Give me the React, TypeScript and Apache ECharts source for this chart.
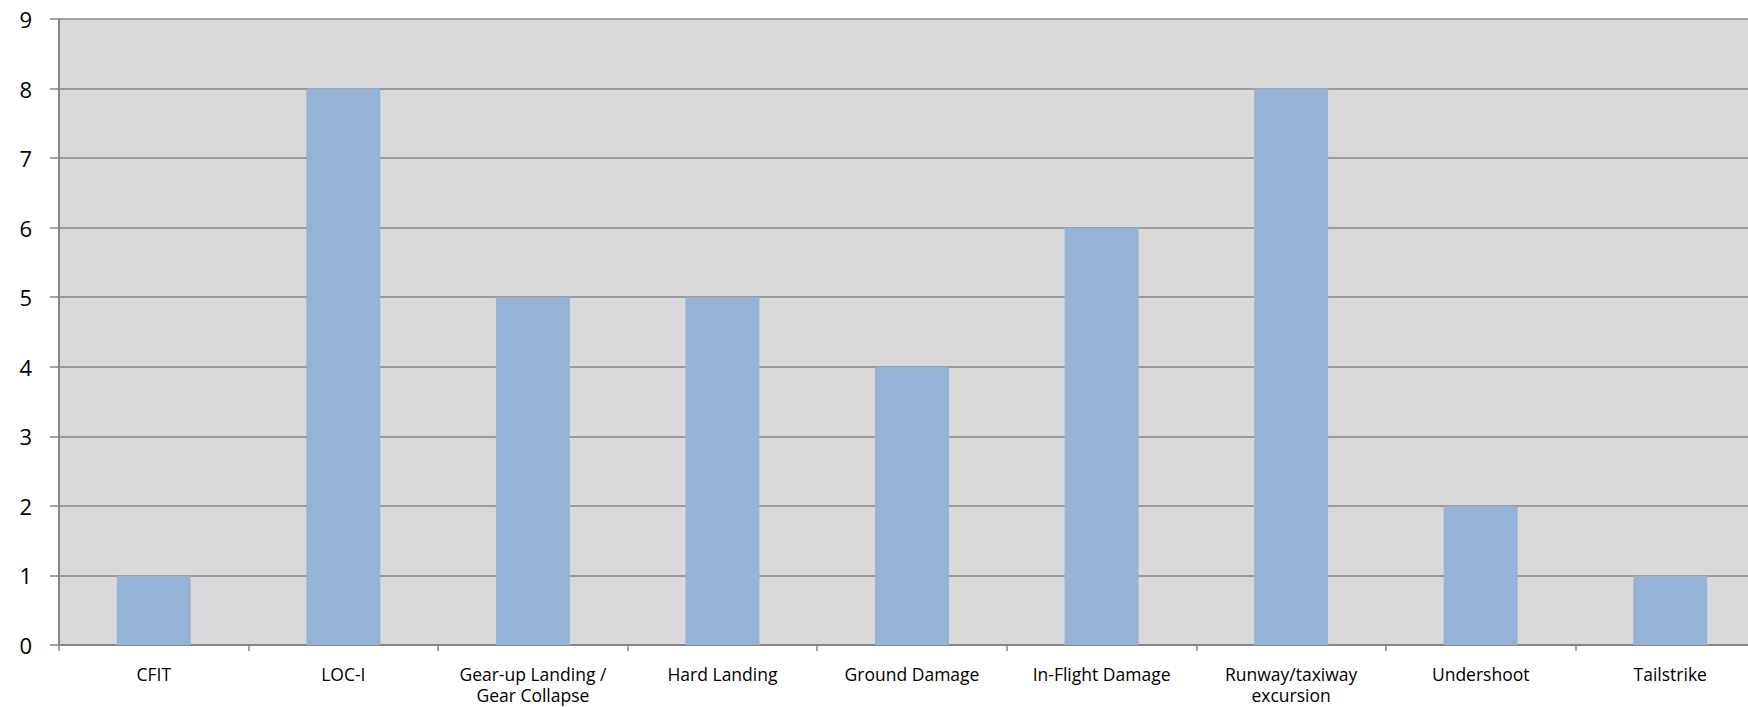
import React, { useEffect, useRef } from "react";
import * as echarts from "echarts";

const categories = [
  "CFIT",
  "LOC-I",
  "Gear-up Landing /\nGear Collapse",
  "Hard Landing",
  "Ground Damage",
  "In-Flight Damage",
  "Runway/taxiway\nexcursion",
  "Undershoot",
  "Tailstrike",
];
const values = [1, 8, 5, 5, 4, 6, 8, 2, 1];
const yTicks = { min: 0, max: 9, interval: 1 };

export default function App() {
  const ref = useRef<HTMLDivElement>(null);
  useEffect(() => {
    if (!ref.current) return;
    const chart = echarts.init(ref.current, undefined, { renderer: "svg" });
    chart.setOption({
      animation: false,
      grid: {
        left: 59,
        top: 19,
        width: 1706,
        height: 626,
        show: true,
        backgroundColor: "#d9d9d9",
        borderWidth: 0,
        containLabel: false,
        outerBoundsMode: "none",
      },
      xAxis: {
        type: "category",
        data: categories,
        axisLine: { show: true, lineStyle: { color: "#868686", width: 2 } },
        axisTick: { show: true, length: 6, lineStyle: { color: "#868686", width: 1.5 } },
        axisLabel: {
          interval: 0,
          margin: 18,
          color: "#000000",
          fontFamily: "Open Sans",
          fontSize: 17.5,
          lineHeight: 21,
        },
        splitLine: { show: false },
      },
      yAxis: {
        type: "value",
        min: yTicks.min,
        max: yTicks.max,
        interval: yTicks.interval,
        axisLine: { show: true, lineStyle: { color: "#868686", width: 2 } },
        axisTick: { show: true, length: 9, lineStyle: { color: "#868686", width: 1.5 } },
        axisLabel: {
          margin: 27,
          color: "#000000",
          fontFamily: "Open Sans",
          fontSize: 22,
        },
        splitLine: { show: true, lineStyle: { color: "#868686", width: 1.5 } },
      },
      series: [
        {
          type: "bar",
          data: values,
          barWidth: "39%",
          itemStyle: { color: "#95b3d7" },
        },
      ],
    });
    return () => chart.dispose();
  }, []);
  return (
    <div
      ref={ref}
      style={{ position: "absolute", left: 0, top: 0, width: 1748, height: 707 }}
    />
  );
}
